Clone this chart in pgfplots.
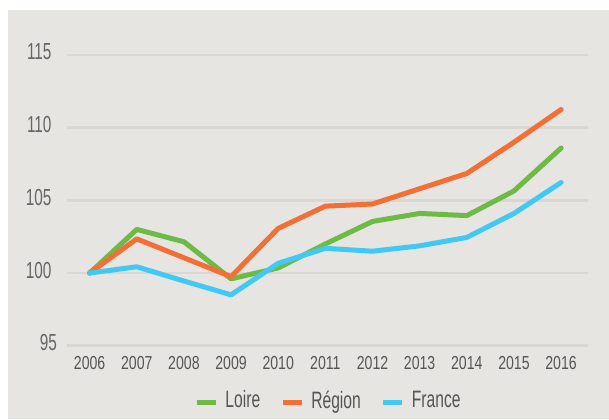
\documentclass[border=0pt]{standalone}
\usepackage{pgfplots}
\pgfplotsset{compat=1.18}
\usepackage{fontspec}
\setmainfont{Liberation Sans}[FakeStretch=0.75]
\newfontfamily\yfont{Liberation Sans}[FakeStretch=0.66]
\newfontfamily\xfont{Liberation Sans}[FakeStretch=0.75]
\newfontfamily\lfont{Liberation Sans}[FakeStretch=0.66]
\definecolor{bg}{HTML}{E6E5E1}
\definecolor{gridc}{HTML}{D8D7D3}
\definecolor{txt}{HTML}{555555}
\definecolor{ytxt}{HTML}{666666}
\definecolor{cloire}{HTML}{6DBA45}
\definecolor{cregion}{HTML}{F26F36}
\definecolor{cfrance}{HTML}{42C8F4}
\begin{document}
\begin{tikzpicture}[x=1bp,y=1bp]
\useasboundingbox (0,0) rectangle (609,419);
\fill[white] (0,0) rectangle (609,419);
\fill[bg] (8,0) rectangle (609,409);
\begin{axis}[
  at={(67bp,73.3bp)}, anchor=south west,
  scale only axis, width=521bp, height=290.7bp,
  xmin=2005.52, xmax=2016.57, ymin=95, ymax=115,
  axis line style={draw=none},
  ytick={95,100,105,110,115},
  yticklabels={95\hspace*{-5.5bp},100,105,110,115},
  xtick={2006,...,2016},
  ymajorgrids, major grid style={draw=gridc, line width=2.6bp},
  tick style={draw=none},
  /pgf/number format/assume math mode=true,
  /pgf/number format/1000 sep={},
  yticklabel style={font=\yfont\fontsize{23.2bp}{24bp}\selectfont, text=ytxt, anchor=east, inner sep=0pt, xshift=-15.3bp, yshift=3bp},
  xticklabel style={font=\xfont\fontsize{18.8bp}{19bp}\selectfont, text=txt, anchor=center, inner sep=0pt, yshift=-17bp},
  every axis plot/.append style={line width=5bp, line join=round, line cap=round},
  legend columns=3,
  legend style={at={(0.5,-0.187)}, anchor=center, draw=none, fill=none,
    font=\lfont\fontsize{23.7bp}{24bp}\selectfont, text=txt,
    nodes={inner sep=0pt},
    /tikz/every odd column/.append style={column sep=7bp},
    /tikz/every even column/.append style={column sep=20bp}},
  legend image code/.code={\draw[#1, line width=5bp, line cap=butt] (0bp,-2.5bp) -- (19bp,-2.5bp);},
  clip=false,
]
\addplot[cloire] coordinates {(2006,100) (2007,103.0) (2008,102.15) (2009,99.6) (2010,100.35) (2011,102.0) (2012,103.55) (2013,104.1) (2014,103.95) (2015,105.65) (2016,108.6)};
\addlegendentry{Loire}
\addplot[cregion] coordinates {(2006,100) (2007,102.35) (2008,101.05) (2009,99.75) (2010,103.07) (2011,104.6) (2012,104.75) (2013,105.8) (2014,106.85) (2015,109.0) (2016,111.25)};
\addlegendentry{Région}
\addplot[cfrance] coordinates {(2006,100) (2007,100.43) (2008,99.45) (2009,98.5) (2010,100.67) (2011,101.7) (2012,101.5) (2013,101.87) (2014,102.45) (2015,104.1) (2016,106.23)};
\addlegendentry{France}
\end{axis}
\end{tikzpicture}
\end{document}
